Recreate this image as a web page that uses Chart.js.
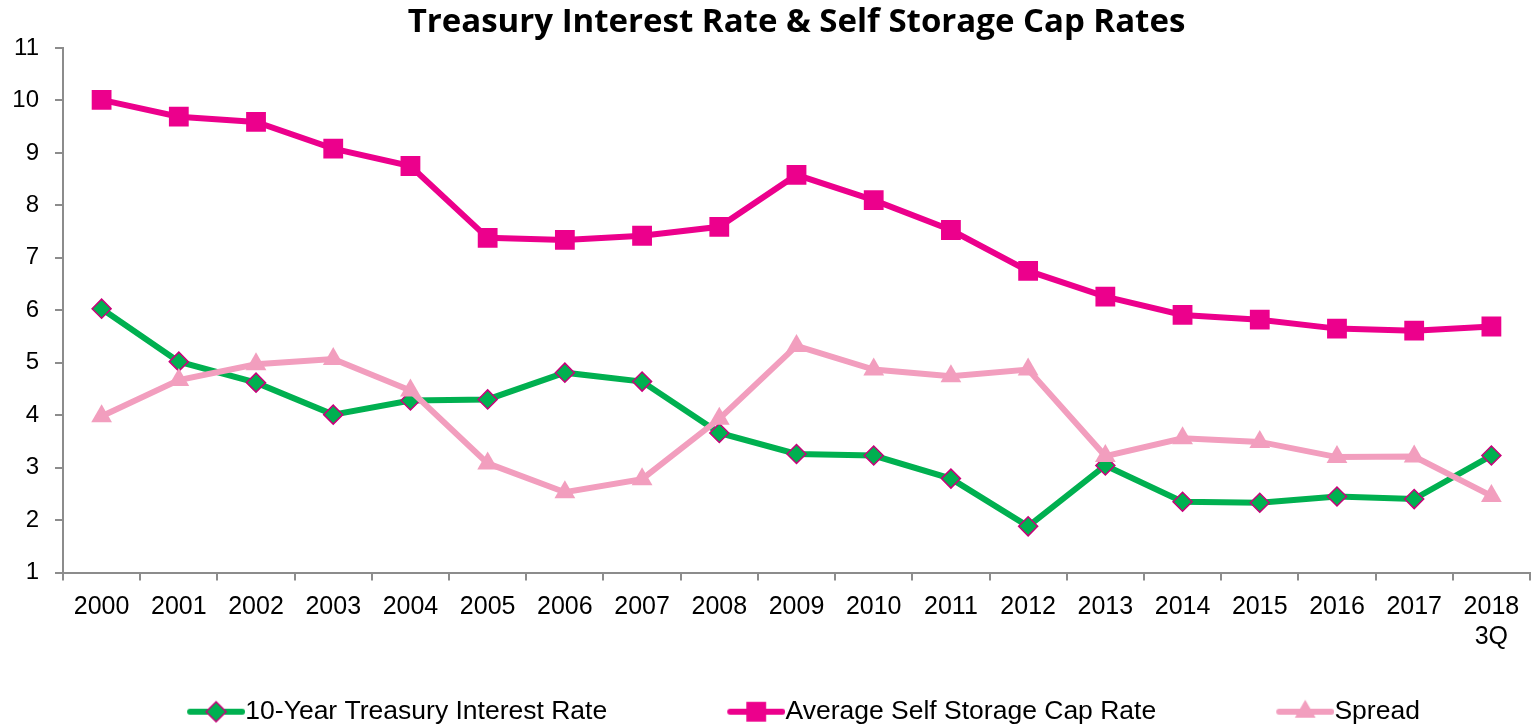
<!DOCTYPE html>
<html lang="en">
<head>
<meta charset="UTF-8">
<title>Treasury Interest Rate &amp; Self Storage Cap Rates</title>
<script src="https://cdn.jsdelivr.net/npm/chart.js"></script>
<style>
  html, body { margin: 0; padding: 0; background: #fff; }
  #chart { display: block; }
</style>
</head>
<body>
<canvas id="chart" width="1536" height="728"></canvas>
<script>
  // values
  const years = ['2000', '2001', '2002', '2003', '2004', '2005', '2006', '2007', '2008', '2009',
                 '2010', '2011', '2012', '2013', '2014', '2015', '2016', '2017', ['2018', '3Q']];
  const treasury = [6.03, 5.02, 4.62, 4.01, 4.28, 4.30, 4.81, 4.64, 3.66, 3.26,
                    3.23, 2.79, 1.88, 3.04, 2.35, 2.33, 2.45, 2.40, 3.23];
  const capRate = [10.01, 9.69, 9.59, 9.08, 8.75, 7.38, 7.34, 7.42, 7.59, 8.58,
                   8.10, 7.53, 6.75, 6.26, 5.91, 5.82, 5.65, 5.61, 5.69];
  const spread = [3.98, 4.67, 4.97, 5.07, 4.47, 3.08, 2.53, 2.78, 3.93, 5.32,
                  4.87, 4.74, 4.87, 3.22, 3.56, 3.49, 3.20, 3.21, 2.46];
  const seriesNames = ['10-Year Treasury Interest Rate', 'Average Self Storage Cap Rate', 'Spread'];
  const yMin = 1, yMax = 11, yStep = 1;

  const GREEN = '#00B050';
  const MAGENTA = '#EC008C';
  const PINK = '#F29EBE';
  const DIAMOND_EDGE = '#C8007A';
  const AXIS = '#8C8C8C';

  // legend icon = empty lead-in + short line with the marker on it
  const LEAD = 77, SEG = 58, HALF = 13;
  function legendIcon(color, style, r, fill, edge, bw) {
    const c = document.createElement('canvas');
    c.width = LEAD + SEG + HALF;
    c.height = 30;
    const g = c.getContext('2d');
    g.strokeStyle = color;
    g.lineWidth = 6;
    g.lineCap = 'round';
    g.beginPath();
    g.moveTo(LEAD + HALF + 3, 15);
    g.lineTo(c.width - 3, 15);
    g.stroke();
    g.fillStyle = fill;
    g.strokeStyle = edge;
    g.lineWidth = bw;
    Chart.helpers.drawPoint(g, {pointStyle: style, radius: r, rotation: 0, borderWidth: bw},
                            LEAD + HALF + SEG / 2, 15);
    return c;
  }
  const icons = [
    legendIcon(GREEN, 'rectRot', 10, GREEN, DIAMOND_EDGE, 1.5),
    legendIcon(MAGENTA, 'rect', 14, MAGENTA, MAGENTA, 0),
    legendIcon(PINK, 'triangle', 12, PINK, PINK, 0)
  ];

  const tickFont = {family: "'Liberation Sans', Arial, sans-serif", size: 24};

  new Chart(document.getElementById('chart'), {
    type: 'line',
    data: {
      labels: years,
      datasets: [{
        label: seriesNames[0],
        data: treasury,
        borderColor: GREEN,
        borderWidth: 6,
        pointStyle: 'rectRot',
        pointRadius: 9.5,
        pointBackgroundColor: GREEN,
        pointBorderColor: DIAMOND_EDGE,
        pointBorderWidth: 1.5,
        order: 2
      }, {
        label: seriesNames[1],
        data: capRate,
        borderColor: MAGENTA,
        borderWidth: 6,
        pointStyle: 'rect',
        pointRadius: 14,
        pointBackgroundColor: MAGENTA,
        pointBorderColor: MAGENTA,
        pointBorderWidth: 0,
        order: 1
      }, {
        label: seriesNames[2],
        data: spread,
        borderColor: PINK,
        borderWidth: 6,
        pointStyle: 'triangle',
        pointRadius: 12,
        pointBackgroundColor: PINK,
        pointBorderColor: PINK,
        pointBorderWidth: 0,
        order: 0
      }]
    },
    options: {
      responsive: false,
      animation: false,
      layout: {autoPadding: false, padding: {left: 0, right: 6, top: 0, bottom: -7}},
      plugins: {
        title: {
          display: true,
          fullSize: false,
          text: 'Treasury Interest Rate & Self Storage Cap Rates',
          color: '#000',
          font: {family: "'Open Sans', Lato, sans-serif", size: 33, weight: 'bold', lineHeight: 1.2},
          padding: {top: 3, bottom: 5.4}
        },
        legend: {
          position: 'bottom',
          labels: {
            usePointStyle: true,
            pointStyleWidth: LEAD + SEG - HALF,
            padding: 43,
            color: '#000',
            font: {family: "'Liberation Sans', Arial, sans-serif", size: 26.5},
            generateLabels(chart) {
              const items = Chart.defaults.plugins.legend.labels.generateLabels(chart);
              items.sort((a, b) => a.datasetIndex - b.datasetIndex);
              items.forEach(it => { it.pointStyle = icons[it.datasetIndex]; });
              return items;
            }
          }
        },
        tooltip: {enabled: false}
      },
      scales: {
        x: {
          offset: true,
          grid: {offset: true, drawOnChartArea: false, drawTicks: true, tickLength: 8, color: AXIS, lineWidth: 2},
          border: {color: AXIS, width: 2},
          ticks: {color: '#000', font: {family: tickFont.family, size: 25, lineHeight: 1.22}, padding: 11,
                  maxRotation: 0, autoSkip: false},
          afterFit(scale) { scale.height = 83; }
        },
        y: {
          min: yMin,
          max: yMax,
          grid: {drawOnChartArea: false, drawTicks: true, tickLength: 8, color: AXIS, lineWidth: 2},
          border: {color: AXIS, width: 2},
          ticks: {stepSize: yStep, color: '#000', font: tickFont, padding: 16},
          afterFit(scale) { scale.width = 63; }
        }
      }
    }
  });
</script>
</body>
</html>
